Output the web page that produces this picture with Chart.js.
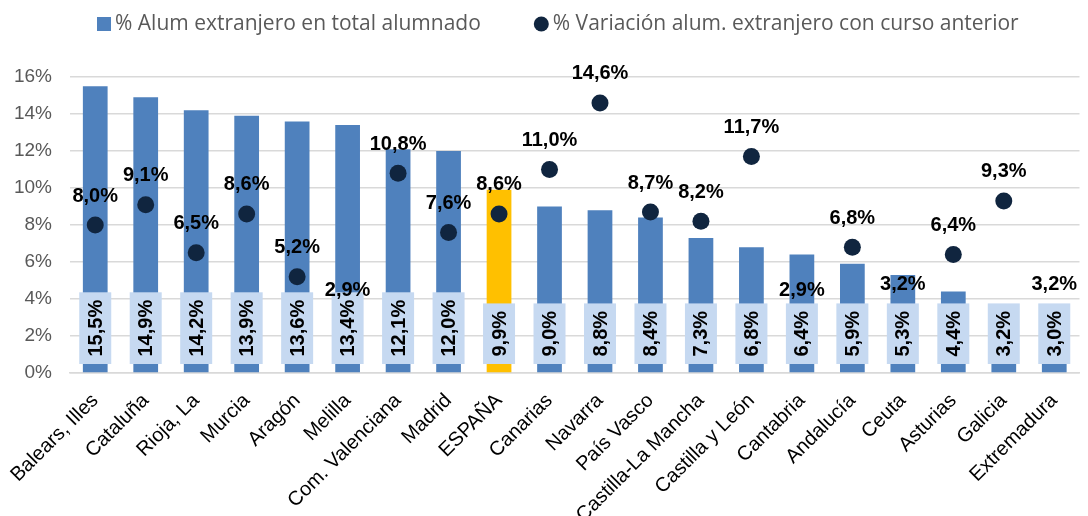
<!DOCTYPE html>
<html>
<head>
<meta charset="utf-8">
<script src="https://cdn.jsdelivr.net/npm/chart.js@4.4.0/dist/chart.umd.min.js"></script>
<style>
    html, body { margin: 0; padding: 0; background: #fff; }
</style>
</head>
<body>
<canvas id="chart" width="1088" height="516"></canvas>
<script>
// Data
const regions = ['Balears, Illes', 'Cataluña', 'Rioja, La', 'Murcia', 'Aragón', 'Melilla',
    'Com. Valenciana', 'Madrid', 'ESPAÑA', 'Canarias', 'Navarra', 'País Vasco',
    'Castilla-La Mancha', 'Castilla y León', 'Cantabria', 'Andalucía', 'Ceuta',
    'Asturias', 'Galicia', 'Extremadura'];
const alumExtranjero = [15.5, 14.9, 14.2, 13.9, 13.6, 13.4, 12.1, 12.0, 9.9, 9.0,
    8.8, 8.4, 7.3, 6.8, 6.4, 5.9, 5.3, 4.4, 3.2, 3.0];
const variacion = [8.0, 9.1, 6.5, 8.6, 5.2, 2.9, 10.8, 7.6, 8.6, 11.0,
    14.6, 8.7, 8.2, 11.7, 2.9, 6.8, 3.2, 6.4, 9.3, 3.2];
const yMax = 16;
const yStep = 2;
const seriesNames = ['% Alum extranjero en total alumnado', '% Variación alum. extranjero con curso anterior'];

// Colours
const BAR_BLUE = '#4F81BD';
const BAR_SPAIN = '#FFC000';
const BOX_BLUE = '#C6D9F1';
const DOT_NAVY = '#10253F';
const GRID = '#D9D9D9';
const FONT = '"Liberation Sans", Arial, sans-serif';

const fmt = v => v.toFixed(1).replace('.', ',') + '%';
const barColors = regions.map(r => r === 'ESPAÑA' ? BAR_SPAIN : BAR_BLUE);

// Labels inside bar bases, then labels above the dots
const labelPlugin = {
    id: 'valueLabels',
    afterDatasetsDraw(chart) {
        const ctx = chart.ctx;
        const base = chart.scales.y.getPixelForValue(0);
        ctx.save();
        ctx.font = 'bold 20px ' + FONT;
        ctx.textAlign = 'center';
        ctx.textBaseline = 'middle';

        // boxed vertical labels at the bar base (they hide the low dots)
        const bars = chart.getDatasetMeta(0).data;
        bars.forEach((bar, i) => {
            const txt = fmt(alumExtranjero[i]);
            const w = ctx.measureText(txt).width;
            const h = w + 15;
            const bottom = base - 9;
            ctx.fillStyle = BOX_BLUE;
            ctx.fillRect(bar.x - 16, bottom - h, 32, h);
            ctx.save();
            ctx.translate(bar.x + 1, bottom - h / 2);
            ctx.rotate(-Math.PI / 2);
            ctx.fillStyle = '#000';
            ctx.fillText(txt, 0, 0);
            ctx.restore();
        });

        // point labels above the dots
        const dots = chart.getDatasetMeta(1).data;
        dots.forEach((pt, i) => {
            ctx.fillStyle = '#000';
            ctx.fillText(fmt(variacion[i]), pt.x, pt.y - 29);
        });
        ctx.restore();
    }
};

// Legend drawn by hand to match the original spacing
const legendPlugin = {
    id: 'topLegend',
    afterDraw(chart) {
        const ctx = chart.ctx;
        const y = 24;
        ctx.save();
        ctx.font = '21px "Open Sans", sans-serif';
        ctx.textBaseline = 'middle';
        ctx.textAlign = 'left';
        let x = 97;
        ctx.fillStyle = BAR_BLUE;
        ctx.fillRect(x, y - 7, 14, 14);
        x += 18;
        ctx.fillStyle = '#595959';
        ctx.fillText(seriesNames[0], x, y);
        x += ctx.measureText(seriesNames[0]).width + 53;
        ctx.fillStyle = DOT_NAVY;
        ctx.beginPath();
        ctx.arc(x + 7.5, y, 7.5, 0, Math.PI * 2);
        ctx.fill();
        x += 19;
        ctx.fillStyle = '#595959';
        ctx.fillText(seriesNames[1], x, y);
        ctx.restore();
    }
};

const ctx = document.getElementById('chart').getContext('2d');
new Chart(ctx, {
    data: {
        labels: regions,
        datasets: [{
            type: 'bar',
            label: seriesNames[0],
            data: alumExtranjero,
            backgroundColor: barColors,
            categoryPercentage: 1,
            barPercentage: 0.49,
            order: 2
        }, {
            type: 'line',
            label: seriesNames[1],
            data: variacion,
            showLine: false,
            pointRadius: 8.5,
            pointHoverRadius: 8.5,
            pointBackgroundColor: DOT_NAVY,
            pointBorderWidth: 0,
            order: 1
        }]
    },
    options: {
        responsive: false,
        animation: false,
        events: [],
        layout: { padding: { top: 77, right: 2, left: 0, bottom: 0 } },
        plugins: {
            legend: { display: false },
            tooltip: { enabled: false }
        },
        scales: {
            x: {
                grid: { display: false },
                border: { color: GRID, width: 1.5 },
                ticks: {
                    color: '#000',
                    font: { family: FONT, size: 20 },
                    minRotation: 45,
                    maxRotation: 45,
                    padding: 8,
                    autoSkip: false
                },
                afterFit(scale) { scale.height = 143; }
            },
            y: {
                min: 0,
                max: yMax,
                grid: { color: GRID, lineWidth: 1.5, drawTicks: false },
                border: { display: false },
                ticks: {
                    stepSize: yStep,
                    color: '#595959',
                    font: { family: FONT, size: 19 },
                    padding: 18,
                    callback: v => v + '%'
                },
                afterFit(scale) { scale.width = 70; }
            }
        }
    },
    plugins: [labelPlugin, legendPlugin]
});
</script>
</body>
</html>
